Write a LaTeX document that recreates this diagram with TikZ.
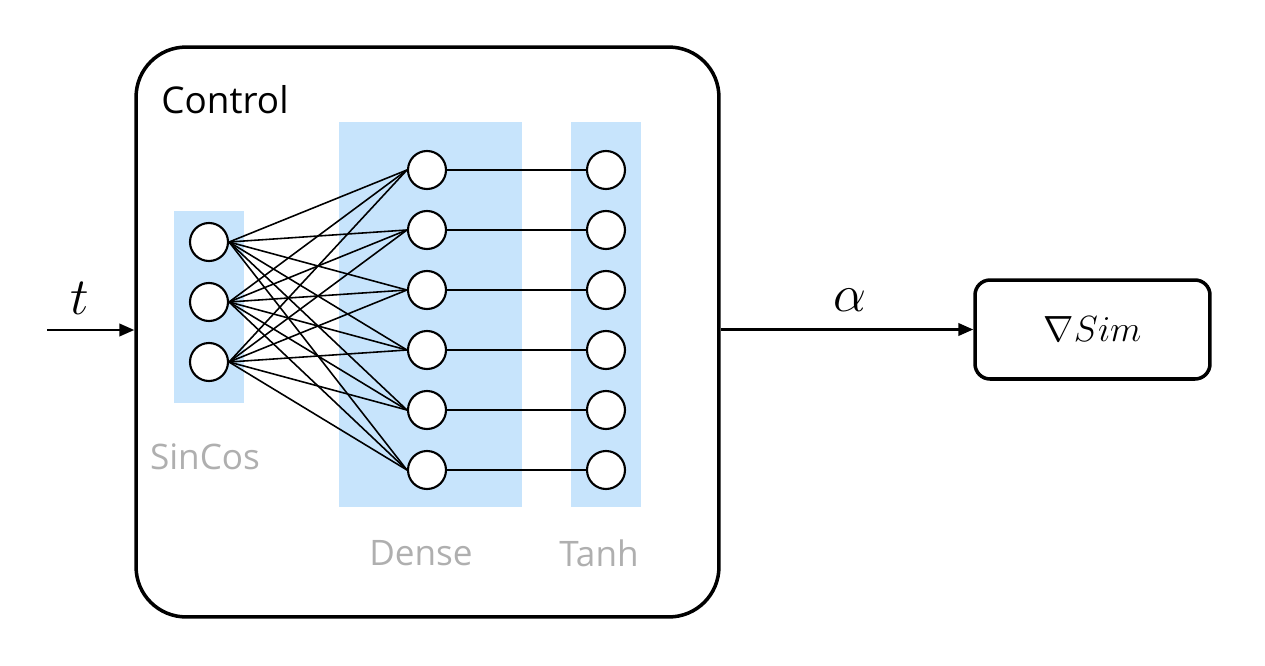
\documentclass[tikz,border=0pt]{standalone}
\usepackage{fontspec}
\setmainfont{Open Sans}
\usetikzlibrary{arrows.meta,positioning}
\definecolor{bandblue}{RGB}{199,228,252}
\definecolor{labelgray}{RGB}{175,175,175}
\tikzset{
    neuron/.style={circle, draw, fill=white, line width=1.2pt, minimum size=0.76cm, inner sep=0pt},
    band/.style={fill=bandblue, draw=none},
    layerlabel/.style={text=labelgray, font=\fontsize{20}{24}\selectfont},
    biglabel/.style={font=\Huge, scale=1.2},
    link/.style={line width=0.9pt},
    arrow/.style={-{Triangle[length=0.3cm,width=0.25cm]}, line width=1.4pt}
}
\begin{document}
\begin{tikzpicture}[x=0.02cm, y=-0.02cm]
        \useasboundingbox (0,0) rectangle (1265,666);

        % Control block
        \node (control) [draw, rounded corners=1cm, line width=2pt, minimum width=11.66cm, minimum height=11.4cm] at (427.5,332) {};
        \node (control_text) at (225,100) {\fontsize{21}{25}\selectfont Control};

        % Layer bands
        \fill[band] (174,211) rectangle (244,403);
        \fill[band] (339,122) rectangle (522,507);
        \fill[band] (571,122) rectangle (641,507);

        % SinCos layer
        \foreach \i/\y in {1/242,2/302,3/362}
            \node[neuron] (s\i) at (209,\y) {};
        \node (sincos_text) [layerlabel] at (205,457) {SinCos};

        % Dense and Tanh layers
        \foreach \j in {1,...,6} {
            \node[neuron] (d\j) at (427,110+60*\j) {};
            \node[neuron] (h\j) at (606,110+60*\j) {};
        }
        \node (dense_text) [layerlabel] at (421,553) {Dense};
        \node (tanh_text) [layerlabel] at (599,553) {Tanh};

        % Connections
        \foreach \i in {1,2,3}
            \foreach \j in {1,...,6}
                \draw[link] (s\i.east) -- (d\j.west);
        \foreach \j in {1,...,6}
            \draw[link] (d\j) -- (h\j);

        % Simulator
        \node (sim) [draw, rounded corners=0.3cm, line width=2pt, minimum width=4.7cm, minimum height=1.98cm] at (1092.5,329.5) {\fontsize{20}{24}\selectfont$\nabla Sim$};

        % Input and output
        \coordinate (tin) at (47,330);
        \draw[arrow] (tin) -- (tin -| control.west);
        \node (t_text) [biglabel] at (80,298) {$t$};
        \draw[arrow] (control.east |- sim.west) -- (sim.west);
        \node (alpha_text) [biglabel] at (850,300) {$\alpha$};

    \end{tikzpicture}
\end{document}
